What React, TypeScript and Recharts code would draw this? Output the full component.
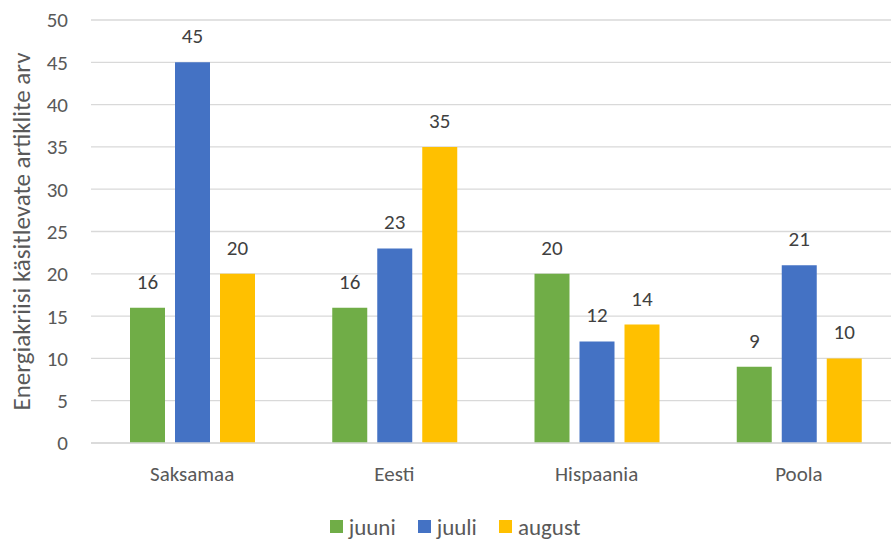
import React from 'react';
import { BarChart, Bar, XAxis, YAxis, CartesianGrid, Legend, LabelList } from 'recharts';

const countries = ['Saksamaa', 'Eesti', 'Hispaania', 'Poola'];
const juuni = [16, 16, 20, 9];
const juuli = [45, 23, 12, 21];
const august = [20, 35, 14, 10];
const yTicks = [0, 5, 10, 15, 20, 25, 30, 35, 40, 45, 50];
const seriesNames = ['juuni', 'juuli', 'august'];
const seriesColors = ['#70AD47', '#4472C4', '#FFC000'];

const data = countries.map((name, i) => ({ name, juuni: juuni[i], juuli: juuli[i], august: august[i] }));

const font = 'Carlito, "Open Sans", "Noto Sans", sans-serif';
const textColor = '#595959';

const LegendBox = () => (
  <div style={{ display: 'flex', justifyContent: 'center', alignItems: 'center', height: 25, fontSize: 23, color: textColor, fontFamily: font, paddingLeft: 32 }}>
    {seriesNames.map((n, i) => (
      <span key={n} style={{ display: 'flex', alignItems: 'center', marginRight: 22 }}>
        <span style={{ width: 13, height: 13, background: seriesColors[i], marginRight: 6, display: 'inline-block' }} />
        {n}
      </span>
    ))}
  </div>
);

export default function App() {
  return (
    <div style={{ position: 'absolute', left: 0, top: 0, width: 891, height: 539, overflow: 'hidden', background: '#fff', fontFamily: font }}>
      <BarChart width={900} height={539} data={data} margin={{ top: 20, right: 0, bottom: 0, left: 0 }} barSize={35} barGap={10}>
        <CartesianGrid vertical={false} stroke="#d9d9d9" strokeWidth={1.3} />
        <XAxis dataKey="name" tickLine={false} axisLine={{ stroke: '#d9d9d9', strokeWidth: 1.3 }} tick={{ fill: textColor, fontSize: 21, fontFamily: font }} tickMargin={17} height={71} />
        <YAxis
          width={91}
          domain={[0, 50]}
          ticks={yTicks}
          interval={0}
          tickLine={false}
          axisLine={false}
          tickMargin={17}
          tick={{ fill: textColor, fontSize: 21, fontFamily: font }}
          label={{ value: 'Energiakriisi käsitlevate artiklite arv', angle: -90, position: 'center', dx: -24, fill: textColor, fontSize: 25, fontFamily: font }}
        />
        <Legend verticalAlign="bottom" align="center" content={<LegendBox />} />
        {seriesNames.map((n, i) => (
          <Bar key={n} dataKey={n} fill={seriesColors[i]} isAnimationActive={false}>
            <LabelList dataKey={n} position="top" offset={19} fill="#404040" fontSize={21} fontFamily={font} />
          </Bar>
        ))}
      </BarChart>
    </div>
  );
}
